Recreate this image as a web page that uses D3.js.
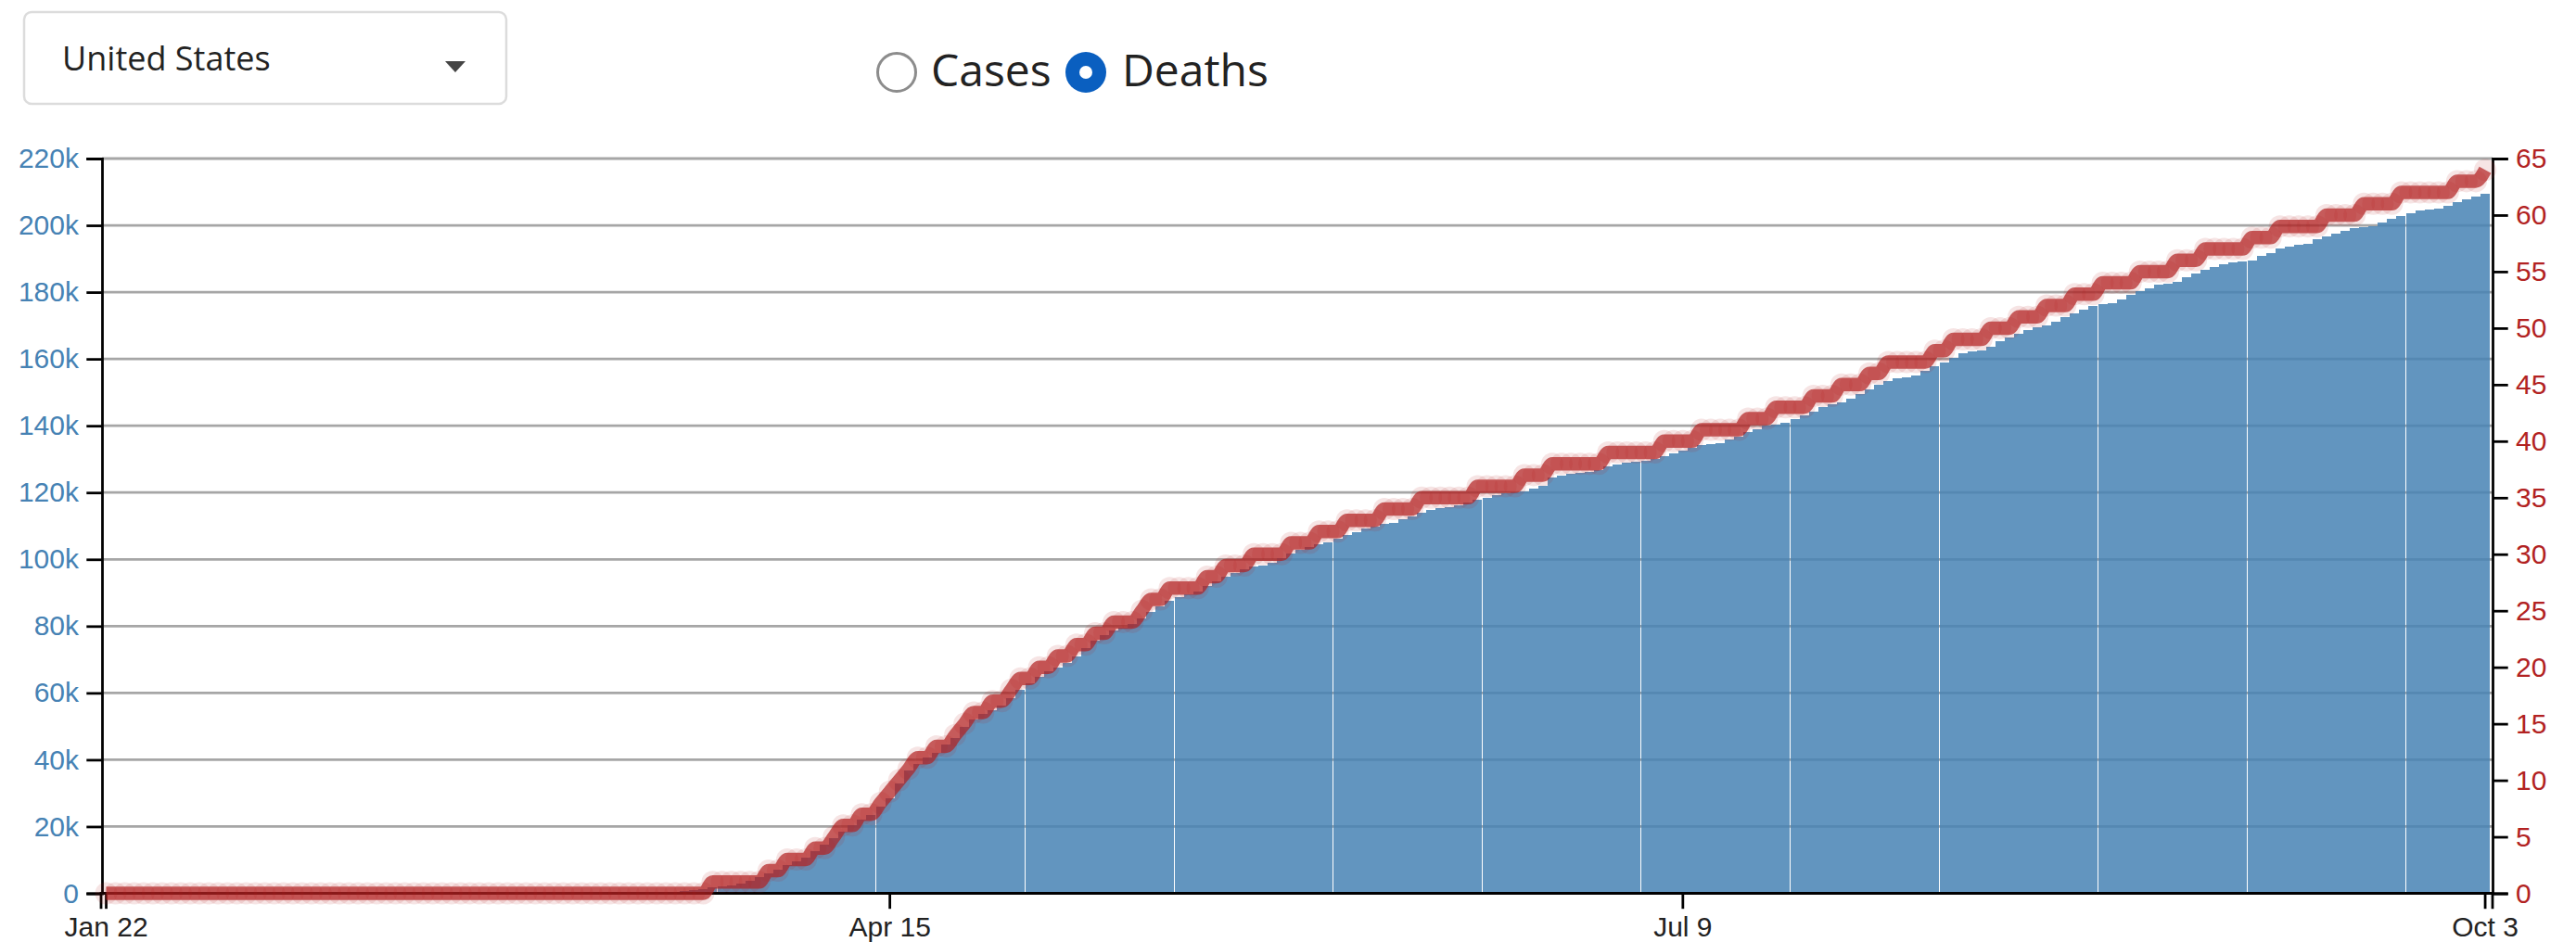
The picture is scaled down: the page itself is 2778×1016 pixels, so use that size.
<!DOCTYPE html>
<html>
<head>
<meta charset="utf-8">
<script src="https://cdn.jsdelivr.net/npm/d3@7"></script>
<style>
  html, body { margin: 0; padding: 0; background: #fff; }
  svg { display: block; }
  .ui-text { font-family: "Open Sans", sans-serif; fill: #222; }
  .axis path, .axis line { stroke: #000; stroke-width: 2.78; }
</style>
</head>
<body>
<svg id="chart" width="2778" height="1016"></svg>
<script>
// ── Data: US cumulative deaths, Jan 22 → Oct 3 (one value per day) ──
const startDay = new Date(2020, 0, 22);
const endDay = new Date(2020, 9, 3);

const deathsJan = [0, 0, 0, 0, 0, 0, 0, 0, 0, 0];
const deathsFeb = [0, 0, 0, 0, 0, 0, 0, 0, 0, 0, 0, 0, 0, 0, 0, 0, 0, 0, 0, 0, 0, 0, 0, 0, 0, 0, 0, 0, 1];
const deathsMar = [1, 6, 7, 11, 12, 14, 17, 21, 22, 28, 36, 40, 47, 54, 63, 85, 108, 118, 200, 244,
  307, 427, 552, 706, 942, 1209, 1700, 2026, 2467, 2978, 3873];
const deathsApr = [4757, 5926, 7087, 8407, 9619, 10783, 12722, 14695, 16478, 18586, 20463, 22020, 23529,
  25832, 28325, 32916, 36773, 38664, 40661, 42094, 44444, 46622, 49954, 51949, 53755, 54881, 56219,
  58355, 60967, 62996];
const deathsMay = [64943, 66369, 67682, 68922, 71064, 73431, 75662, 77180, 78795, 79526, 80682, 82356,
  84119, 85898, 87530, 88754, 89562, 90347, 91921, 93439, 94702, 95979, 97087, 97720, 98223, 98916,
  100418, 101617, 102836, 103781, 104383];
const deathsJun = [105147, 106181, 107175, 108211, 109142, 109802, 110514, 111007, 112006, 112900,
  113820, 114669, 115436, 115732, 116127, 116963, 117717, 118435, 119112, 119719, 119977, 120402,
  121225, 121979, 124415, 125039, 125539, 125803, 126140, 126739];
const deathsJul = [127825, 128462, 129084, 129346, 129626, 130006, 130823, 131693, 132534, 133369,
  134097, 134520, 134890, 135759, 136711, 138161, 139067, 139978, 140403, 140887, 142006, 143203,
  144302, 145507, 146437, 146945, 148085, 149387, 150818, 152143, 153359];
const deathsAug = [154124, 154589, 155046, 156322, 157737, 158991, 160239, 161643, 162130, 162640,
  163696, 165209, 166316, 167525, 168593, 169389, 169929, 171196, 172559, 173664, 174819, 175914,
  176298, 176716, 177941, 179147, 180208, 181168, 182176, 182502, 183034];
const deathsSep = [184591, 185628, 186651, 187603, 188456, 188916, 189151, 189556, 190734, 191808,
  192973, 193673, 194104, 194539, 195761, 196648, 197527, 198484, 199181, 199455, 199850, 200774,
  201891, 202810, 203720, 204496, 204762, 205080, 205924, 206876];
const deathsOct = [207738, 208592, 209343];

// deaths per 100k population, as plotted (whole numbers)
const per100kJan = [0, 0, 0, 0, 0, 0, 0, 0, 0, 0];
const per100kFeb = [0, 0, 0, 0, 0, 0, 0, 0, 0, 0, 0, 0, 0, 0, 0, 0, 0, 0, 0, 0, 0, 0, 0, 0, 0, 0, 0, 0, 0];
const per100kMar = [0, 0, 0, 0, 0, 0, 0, 0, 0, 0, 0, 0, 0, 0, 0, 0, 0, 0, 0, 0, 0, 0, 0, 0, 0, 0, 1, 1, 1, 1, 1];
const per100kApr = [1, 2, 2, 3, 3, 3, 4, 4, 5, 6, 6, 7, 7, 8, 9, 10, 11, 12, 12, 13, 13, 14, 15, 16, 16, 17, 17, 18, 19, 19];
const per100kMay = [20, 20, 21, 21, 22, 22, 23, 23, 24, 24, 24, 25, 26, 26, 27, 27, 27, 27, 28, 28, 29, 29, 29, 30, 30, 30, 30, 31, 31, 31, 32];
const per100kJun = [32, 32, 33, 33, 33, 33, 34, 34, 34, 34, 35, 35, 35, 35, 35, 35, 36, 36, 36, 36, 36, 37, 37, 37, 38, 38, 38, 38, 38, 38];
const per100kJul = [39, 39, 39, 39, 39, 39, 40, 40, 40, 40, 41, 41, 41, 41, 41, 42, 42, 42, 43, 43, 43, 43, 44, 44, 44, 45, 45, 45, 46, 46, 47];
const per100kAug = [47, 47, 47, 47, 48, 48, 49, 49, 49, 49, 50, 50, 50, 51, 51, 51, 52, 52, 52, 53, 53, 53, 54, 54, 54, 54, 55, 55, 55, 55, 56];
const per100kSep = [56, 56, 57, 57, 57, 57, 57, 58, 58, 58, 59, 59, 59, 59, 59, 60, 60, 60, 60, 61, 61, 61, 61, 62, 62, 62, 62, 62, 62, 63];
const per100kOct = [63, 63, 64];

const tickDates = [new Date(2020, 0, 22), new Date(2020, 3, 15), new Date(2020, 6, 9), new Date(2020, 9, 3)];
const leftTicks = [0, 20000, 40000, 60000, 80000, 100000, 120000, 140000, 160000, 180000, 200000, 220000];
const rightTicks = [0, 5, 10, 15, 20, 25, 30, 35, 40, 45, 50, 55, 60, 65];
const countryLabel = 'United States';
const modeLabels = ['Cases', 'Deaths'];

// ── Assemble rows ──
const days = d3.timeDay.range(startDay, d3.timeDay.offset(endDay, 1));
const deaths = [].concat(deathsJan, deathsFeb, deathsMar, deathsApr, deathsMay, deathsJun,
  deathsJul, deathsAug, deathsSep, deathsOct);
const per100k = [].concat(per100kJan, per100kFeb, per100kMar, per100kApr, per100kMay, per100kJun,
  per100kJul, per100kAug, per100kSep, per100kOct);
const rows = days.map((d, i) => ({ date: d, key: +d, deaths: deaths[i], rate: per100k[i] }));

const svg = d3.select('#chart');
const plot = { left: 110, right: 2688, top: 171, bottom: 963.5 };

// ── Controls (dropdown + radios) ──
const ctl = svg.append('g');
ctl.append('rect')
  .attr('x', 26).attr('y', 13).attr('width', 520).attr('height', 99).attr('rx', 8)
  .attr('fill', '#fff').attr('stroke', '#dcdcdc').attr('stroke-width', 2.5);
ctl.append('text').attr('class', 'ui-text')
  .attr('x', 67).attr('y', 76).attr('font-size', '36px')
  .text(countryLabel);
ctl.append('path')
  .attr('d', 'M480,66 L502,66 L491,78 Z')
  .attr('fill', '#444');

ctl.append('circle')
  .attr('cx', 967).attr('cy', 78).attr('r', 20.5)
  .attr('fill', '#fff').attr('stroke', '#8c8c8c').attr('stroke-width', 3);
ctl.append('text').attr('class', 'ui-text')
  .attr('x', 1004).attr('y', 93).attr('font-size', '48px')
  .text(modeLabels[0]);
ctl.append('circle')
  .attr('cx', 1171).attr('cy', 78).attr('r', 22)
  .attr('fill', '#0a5fc0');
ctl.append('circle')
  .attr('cx', 1171).attr('cy', 78).attr('r', 7)
  .attr('fill', '#fff');
ctl.append('text').attr('class', 'ui-text')
  .attr('x', 1210).attr('y', 93).attr('font-size', '48px')
  .text(modeLabels[1]);

// ── Scales ──
const x = d3.scaleBand()
  .domain(rows.map(r => r.key))
  .range([109.5, 2685.1])
  .padding(0);

const yLeft = d3.scaleLinear().domain([0, 220000]).range([plot.bottom, plot.top]);
const yRight = d3.scaleLinear().domain([0, 65]).range([plot.bottom, plot.top]);

// Grid lines
svg.append('g')
  .selectAll('line').data(leftTicks.slice(1)).join('line')
  .attr('x1', plot.left).attr('x2', plot.right)
  .attr('y1', d => yLeft(d)).attr('y2', d => yLeft(d))
  .attr('stroke', '#a6a6a6').attr('stroke-width', 2.78);

// Bars
const barW = Math.floor(x.bandwidth());
svg.append('g')
  .attr('shape-rendering', 'crispEdges')
  .selectAll('rect').data(rows).join('rect')
  .attr('x', d => x(d.key))
  .attr('width', barW)
  .attr('y', d => yLeft(d.deaths))
  .attr('height', d => plot.bottom - yLeft(d.deaths))
  .attr('fill', 'steelblue').attr('fill-opacity', 0.85);

// ── Axes ──
const fmtDate = d3.timeFormat('%b %-d');
const xAxis = svg.append('g').attr('class', 'axis')
  .attr('transform', `translate(0,${plot.bottom})`)
  .call(d3.axisBottom(x)
    .tickValues(tickDates.map(d => +d))
    .tickFormat(k => fmtDate(new Date(k)))
    .tickSize(16.7).tickPadding(8.3));
xAxis.select('.domain').attr('d', `M109,16.7V0H${plot.right}V16.7`);
xAxis.selectAll('text').attr('fill', '#222');

const leftAxis = svg.append('g').attr('class', 'axis')
  .attr('transform', `translate(${plot.left},0)`)
  .call(d3.axisLeft(yLeft).tickValues(leftTicks).tickFormat(d3.format('~s'))
    .tickSize(16.7).tickPadding(8.3));
leftAxis.selectAll('text').attr('fill', 'steelblue');

const rightAxis = svg.append('g').attr('class', 'axis')
  .attr('transform', `translate(${plot.right},0)`)
  .call(d3.axisRight(yRight).tickValues(rightTicks)
    .tickSize(16.7).tickPadding(8.3));
rightAxis.selectAll('text').attr('fill', 'firebrick');

svg.selectAll('.axis text').attr('font-size', '30px')
  .attr('font-family', '"Liberation Sans", Arial, sans-serif');

// ── Per-100k line ──
const cx = d => x(d.key) + x.bandwidth() / 2;
const line = d3.line()
  .x(cx)
  .y(d => yRight(d.rate))
  .curve(d3.curveMonotoneX);

svg.append('path')
  .datum(rows)
  .attr('d', line)
  .attr('fill', 'none')
  .attr('stroke', 'firebrick').attr('stroke-opacity', 0.7)
  .attr('stroke-width', 14.5);

svg.append('g')
  .selectAll('circle').data(rows).join('circle')
  .attr('cx', cx).attr('cy', d => yRight(d.rate))
  .attr('r', 12)
  .attr('fill', 'firebrick').attr('fill-opacity', 0.12);
</script>
</body>
</html>
